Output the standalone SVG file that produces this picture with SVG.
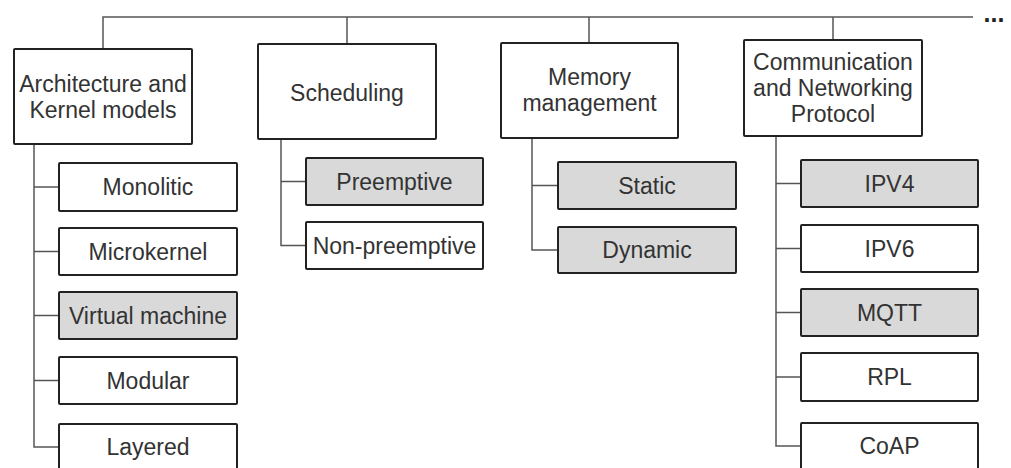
<svg xmlns="http://www.w3.org/2000/svg" width="1011" height="468" viewBox="0 0 1011 468">
<style>
.box{fill:#fff;stroke:#222;stroke-width:2}
.hl{fill:#d9d9d9}
.c{fill:none;stroke:#555;stroke-width:1.5}
text{font-family:"Liberation Sans",Arial,sans-serif;font-size:23px;fill:#333;text-anchor:middle}
</style>
<rect width="1011" height="468" fill="#fff"/>
<g id="connectors">
<path class="c" d="M103,49V17H973M347,17V44M589,17V43M833,17V40"/>
<path class="c" d="M34,144V447H59M34,187H59M34,251.5H59M34,315.5H59M34,380.5H59"/>
<path class="c" d="M281,139V245.5H306M281,181.5H306"/>
<path class="c" d="M532,138V250H558M532,185.5H558"/>
<path class="c" d="M776,136V446H801M776,183.5H801M776,248.5H801M776,312.5H801M776,377H801"/>
</g>
<text x="994" y="22" style="font-weight:bold;font-size:25px;fill:#222">...</text>
<g id="arch"><rect class="box" x="14" y="49" width="178" height="95" rx="1"/><text x="103" y="92">Architecture and</text><text x="103" y="118">Kernel models</text></g>
<g id="sched"><rect class="box" x="258" y="44" width="178" height="95" rx="1"/><text x="347" y="101">Scheduling</text></g>
<g id="mem"><rect class="box" x="501" y="43" width="177" height="95" rx="1"/><text x="589.5" y="85">Memory</text><text x="589.5" y="111">management</text></g>
<g id="comm"><rect class="box" x="744" y="40" width="178" height="96" rx="1"/><text x="833" y="70">Communication</text><text x="833" y="96">and Networking</text><text x="833" y="122">Protocol</text></g>
<g id="monolitic"><rect class="box" x="59" y="163" width="178" height="48" rx="1"/><text x="148" y="195">Monolitic</text></g>
<g id="microkernel"><rect class="box" x="59" y="228" width="178" height="47" rx="1"/><text x="148" y="259.5">Microkernel</text></g>
<g id="vm"><rect class="box hl" x="59" y="292" width="178" height="47" rx="1"/><text x="148" y="323.5">Virtual machine</text></g>
<g id="modular"><rect class="box" x="59" y="357" width="178" height="47" rx="1"/><text x="148" y="388.5">Modular</text></g>
<g id="layered"><rect class="box" x="59" y="424" width="178" height="48" rx="1"/><text x="148" y="455">Layered</text></g>
<g id="preemptive"><rect class="box hl" x="306" y="158" width="177" height="47" rx="1"/><text x="394.5" y="189.5">Preemptive</text></g>
<g id="nonpreemptive"><rect class="box" x="306" y="222" width="177" height="47" rx="1"/><text x="394.5" y="253.5">Non-preemptive</text></g>
<g id="static"><rect class="box hl" x="558" y="162" width="178" height="47" rx="1"/><text x="647" y="193.5">Static</text></g>
<g id="dynamic"><rect class="box hl" x="558" y="227" width="178" height="46" rx="1"/><text x="647" y="258">Dynamic</text></g>
<g id="ipv4"><rect class="box hl" x="801" y="160" width="177" height="47" rx="1"/><text x="889.5" y="191.5">IPV4</text></g>
<g id="ipv6"><rect class="box" x="801" y="225" width="177" height="47" rx="1"/><text x="889.5" y="256.5">IPV6</text></g>
<g id="mqtt"><rect class="box hl" x="801" y="289" width="177" height="47" rx="1"/><text x="889.5" y="320.5">MQTT</text></g>
<g id="rpl"><rect class="box" x="801" y="353" width="177" height="48" rx="1"/><text x="889.5" y="385">RPL</text></g>
<g id="coap"><rect class="box" x="801" y="423" width="177" height="48" rx="1"/><text x="889.5" y="454">CoAP</text></g>
</svg>
